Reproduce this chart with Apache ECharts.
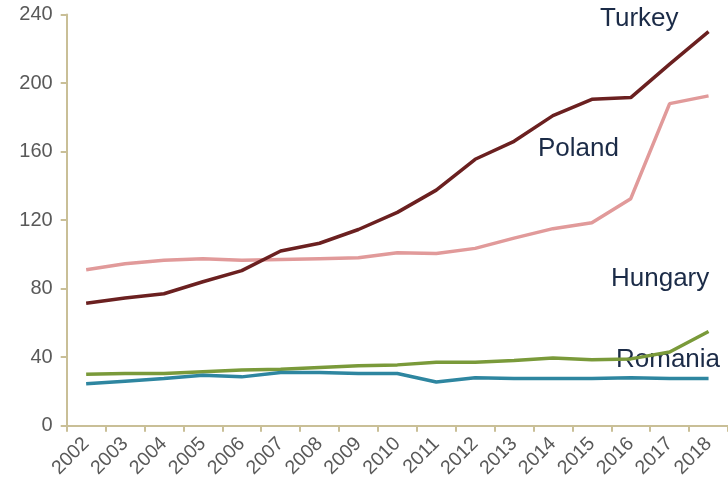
<!DOCTYPE html>
<html><head><meta charset="utf-8">
<script src="https://cdn.jsdelivr.net/npm/echarts@6/dist/echarts.min.js"></script>
<style>html,body{margin:0;padding:0;background:#fff}#c{width:728px;height:488px}</style>
</head><body><div id="c"></div>
<script>
const years = ['2002','2003','2004','2005','2006','2007','2008','2009','2010','2011','2012','2013','2014','2015','2016','2017','2018'];
const turkey  = [71.5,74.5,77,84,90.5,102,106.5,114.5,124.5,137.5,155.5,166,181,190.5,191.5,211,230];
const poland  = [91,94.5,96.5,97.5,96.5,97,97.5,98,101,100.5,103.5,109.5,115,118.5,132.5,188,192.5];
const hungary = [30,30.5,30.5,31.5,32.5,33,34,35,35.5,37,37,38,39.5,38.5,39,43,55];
const romania = [24.5,26,27.5,29.5,28.5,31,31,30.5,30.5,25.5,28,27.5,27.5,27.5,28,27.5,27.5];
const yTicks = [0,40,80,120,160,200,240];

const chart = echarts.init(document.getElementById('c'));
const axisColor = '#C9BF97';
function ser(name, data, color){
  return {name, type:'line', data, symbol:'none', smooth:false,
    lineStyle:{width:3.5, color}, itemStyle:{color}};
}
const lblStyle = {fontFamily:'Liberation Sans, Arial, sans-serif', fontSize:26, fill:'#1B2B47'};
chart.setOption({
  animation:false,
  grid:{left:66.7, right:-5, top:14.5, bottom:62.3, containLabel:false},
  xAxis:{type:'category', data:years, boundaryGap:true,
    axisLine:{lineStyle:{color:axisColor, width:2}},
    axisTick:{show:true, length:6, lineStyle:{color:axisColor, width:2}, alignWithLabel:false},
    axisLabel:{rotate:45, fontSize:19.5, color:'#595959', fontFamily:'Liberation Sans, Arial, sans-serif', margin:15, interval:0},
    splitLine:{show:false}},
  yAxis:{type:'value', min:yTicks[0], max:yTicks[yTicks.length-1], interval:40,
    axisLine:{show:true, lineStyle:{color:axisColor, width:2}},
    axisTick:{show:true, length:6, lineStyle:{color:axisColor, width:2}},
    axisLabel:{fontSize:20, color:'#595959', fontFamily:'Liberation Sans, Arial, sans-serif', margin:14},
    splitLine:{show:false}},
  series:[ser('Poland',poland,'#E19A9A'), ser('Hungary',hungary,'#7A9A3A'), ser('Romania',romania,'#2E86A0'), ser('Turkey',turkey,'#6B2020')],
  graphic:[
    {type:'text', left:600, top:6, style:Object.assign({text:'Turkey'}, lblStyle)},
    {type:'text', left:538, top:136, style:Object.assign({text:'Poland'}, lblStyle)},
    {type:'text', left:611, top:266, style:Object.assign({text:'Hungary'}, lblStyle)},
    {type:'text', left:616, top:347, style:Object.assign({text:'Romania'}, lblStyle)}
  ]
});
</script></body></html>
